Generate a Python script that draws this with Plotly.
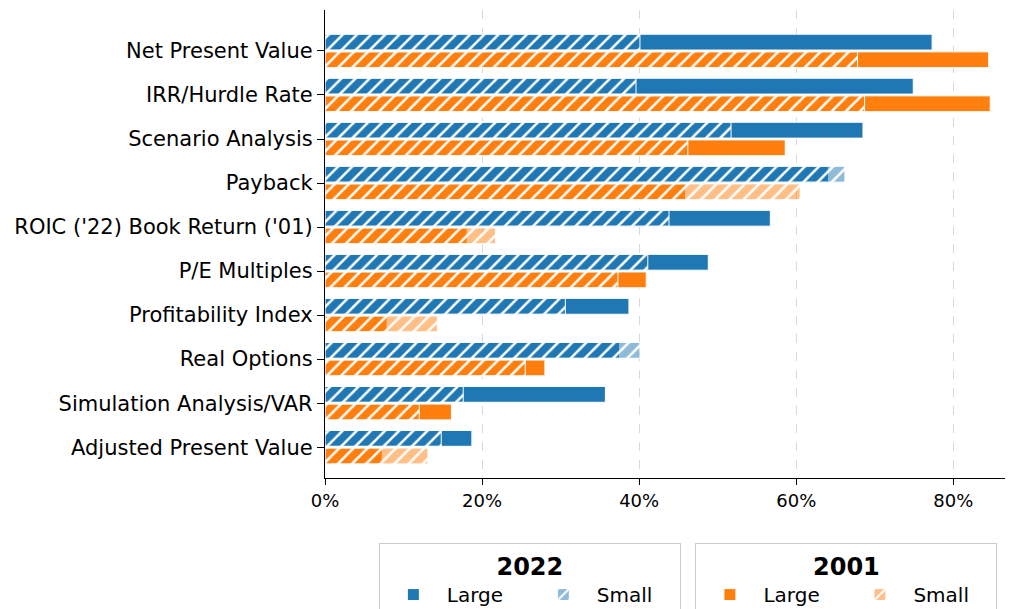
import plotly.graph_objects as go

categories = ["Net Present Value", "IRR/Hurdle Rate", "Scenario Analysis", "Payback",
              "ROIC ('22) Book Return ('01)", "P/E Multiples", "Profitability Index",
              "Real Options", "Simulation Analysis/VAR", "Adjusted Present Value"]

large_2022 = [77.3, 74.9, 68.5, 64.1, 56.7, 48.8, 38.7, 37.5, 35.7, 18.7]
small_2022 = [40.1, 39.6, 51.7, 66.2, 43.8, 41.1, 30.6, 40.1, 17.6, 14.8]
large_2001 = [84.5, 84.7, 58.6, 45.9, 18.1, 40.9, 7.9, 28.0, 16.1, 7.3]
small_2001 = [67.8, 68.7, 46.2, 60.5, 21.7, 37.3, 14.3, 25.5, 12.0, 13.1]

x_ticks = [0, 20, 40, 60, 80]
x_labels = ["0%", "20%", "40%", "60%", "80%"]

BLUE = "#1f77b4"
ORANGE = "#ff7f0e"
BLUE_A = "rgba(31,119,180,0.5)"
ORANGE_A = "rgba(255,127,14,0.5)"

idx = list(range(len(categories)))
y_top = [i - 0.2 for i in idx]
y_bot = [i + 0.2 for i in idx]

edge = dict(color="white", width=1)


def hatch(bg):
    return dict(shape="/", fgcolor="white", bgcolor=bg, size=10, solidity=0.25,
                fillmode="replace")


fig = go.Figure()
fig.add_trace(go.Bar(x=large_2022, y=y_top, orientation="h", width=0.36, name="Large",
                     marker=dict(color=BLUE, line=edge), legend="legend"))
fig.add_trace(go.Bar(x=small_2022, y=y_top, orientation="h", width=0.36, name="Small",
                     marker=dict(color=BLUE_A, line=edge, pattern=hatch(BLUE_A)),
                     legend="legend"))
fig.add_trace(go.Bar(x=large_2001, y=y_bot, orientation="h", width=0.36, name="Large",
                     marker=dict(color=ORANGE, line=edge), legend="legend2"))
fig.add_trace(go.Bar(x=small_2001, y=y_bot, orientation="h", width=0.36, name="Small",
                     marker=dict(color=ORANGE_A, line=edge, pattern=hatch(ORANGE_A)),
                     legend="legend2"))

# page body has an 8px margin, so the figure is shrunk by 8px and margins shifted
leg = dict(orientation="h", xref="container", yref="container",
           yanchor="top", xanchor="left", y=0.11,
           bordercolor="#cccccc", borderwidth=1, bgcolor="white",
           entrywidth=78, itemwidth=57, font=dict(size=20),
           traceorder="normal")

fig.update_layout(
    barmode="overlay",
    width=1005, height=601,
    margin=dict(l=317, r=0, t=2, b=131),
    plot_bgcolor="white", paper_bgcolor="white",
    font=dict(family="DejaVu Sans", size=21, color="black"),
    legend=dict(leg, x=0.369, title=dict(text="<b>2022</b>", side="top center")),
    legend2=dict(leg, x=0.684, title=dict(text="<b>2001</b>", side="top center")),
    xaxis=dict(range=[0, 87.6], tickvals=x_ticks, ticktext=x_labels,
               tickfont=dict(size=18), showline=True, linecolor="black", linewidth=1.2,
               ticks="outside", ticklen=6, tickcolor="black", automargin=False,
               showgrid=True, gridcolor="#d9d9d9", griddash="dash", gridwidth=1,
               zeroline=False),
    yaxis=dict(range=[9.7, -0.93], tickvals=idx, ticktext=categories,
               showline=True, linecolor="black", linewidth=1.2, automargin=False,
               ticks="outside", ticklen=7, tickcolor="black",
               showgrid=False, zeroline=False),
)

fig.write_html("out.html")
